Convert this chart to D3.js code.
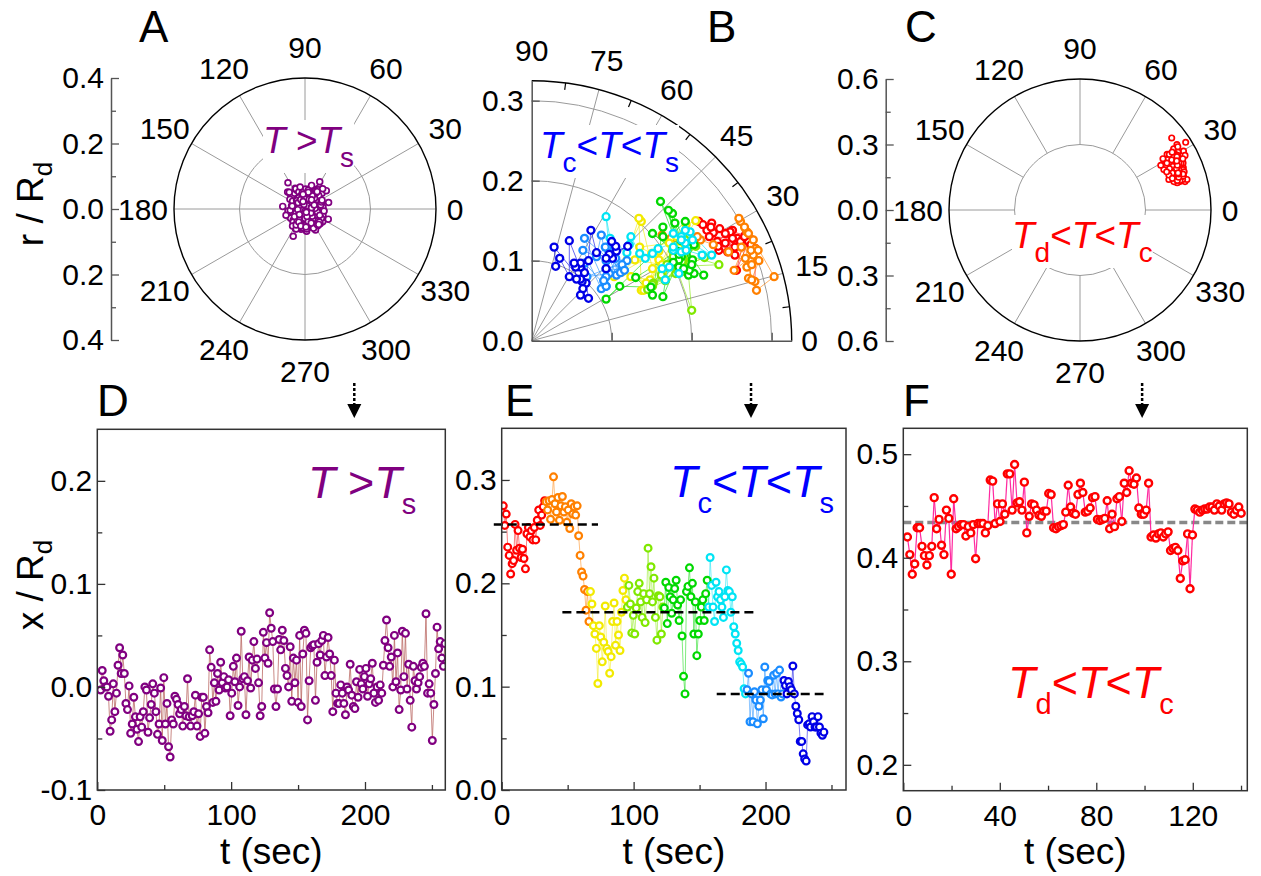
<!DOCTYPE html>
<html>
<head>
<meta charset="utf-8">
<script src="https://cdn.jsdelivr.net/npm/d3@7/dist/d3.min.js"></script>
<style>
  body { margin: 0; background: #fff; }
  svg text { font-family: "Liberation Sans", Arial, Helvetica, sans-serif; }
</style>
</head>
<body>
<svg id="fig" width="1261" height="876"></svg>
<script>
// ---------- values ----------

// D : x / Rd above Ts (one sample about every 1.18 s)
var dStart = 2.5, dStep = 1.18;
var dX = [-0.003,0.016,0.006,0.000,0.000,-0.009,-0.043,-0.032,0.003,-0.024,
  -0.006,0.021,0.038,0.013,0.031,0.013,-0.016,-0.022,0.001,-0.045,
  -0.036,-0.010,-0.029,-0.041,-0.053,-0.029,-0.039,-0.024,0.000,-0.003,
  -0.044,-0.030,-0.017,0.003,-0.006,-0.024,-0.046,-0.036,-0.001,-0.052,
  0.009,-0.036,-0.016,-0.058,-0.068,-0.032,-0.036,-0.009,-0.012,-0.017,
  -0.026,-0.022,-0.038,-0.019,-0.028,0.008,-0.029,-0.038,-0.028,-0.024,
  -0.008,-0.038,-0.026,-0.048,-0.010,-0.010,-0.045,-0.019,-0.025,0.036,
  0.019,-0.015,0.004,-0.014,0.013,-0.003,0.024,0.004,0.010,-0.001,
  0.000,0.007,-0.028,-0.006,0.020,0.005,0.028,-0.018,0.000,0.054,
  0.008,0.010,-0.027,0.006,0.029,-0.001,0.026,0.044,0.018,0.027,
  0.004,-0.028,-0.019,0.053,0.028,0.043,0.023,0.072,0.057,0.044,
  -0.002,-0.019,-0.002,0.046,0.036,0.055,0.045,0.018,0.011,0.000,
  0.039,-0.014,0.028,0.004,0.026,-0.015,0.050,-0.019,0.032,0.055,
  0.052,-0.032,0.006,0.038,0.040,0.041,-0.013,0.024,0.042,0.031,
  0.045,0.050,0.011,0.029,0.048,0.032,0.011,-0.024,0.026,-0.006,
  -0.016,-0.016,0.002,-0.006,-0.016,-0.027,0.000,-0.003,0.022,-0.008,
  -0.019,-0.021,0.005,-0.010,0.017,0.003,-0.002,0.010,0.018,-0.009,
  0.003,0.008,0.023,-0.006,-0.015,0.000,-0.013,0.002,-0.006,0.021,
  0.045,0.065,0.038,0.020,0.029,0.000,0.050,0.005,0.033,-0.022,
  -0.003,0.054,0.010,0.052,-0.002,0.022,-0.013,-0.039,0.020,0.006,
  -0.002,0.004,0.010,0.019,0.023,0.020,0.071,-0.006,0.003,-0.006,
  -0.052,-0.017,0.013,0.058,0.037,0.044,0.028,0.020,0.042];
// A : y / Rd of the same samples (x comes from dX)
var aY = [0.012,-0.020,0.035,0.004,-0.041,0.022,-0.008,0.050,-0.030,0.015,0.041,-0.012,0.028,-0.055,0.006,0.060,-0.024,0.033,-0.003,0.046,
  -0.038,0.019,-0.060,0.010,0.052,-0.016,0.037,-0.045,0.002,0.025,-0.028,0.063,-0.010,0.044,-0.050,0.014,0.030,-0.034,0.055,-0.006,
  0.021,-0.083,0.040,-0.019,0.008,0.048,-0.040,0.026,-0.062,0.017,0.058,-0.025,0.003,0.035,-0.048,0.045,-0.014,0.024,0.062,-0.036,
  0.010,-0.052,0.029,0.051,-0.021,0.039,-0.004,-0.058,0.018,0.047,-0.031,0.006,0.057,-0.044,0.023,-0.011,0.042,-0.066,0.031,0.013,
  -0.027,0.054,-0.008,0.036,-0.053,0.020,0.060,-0.018,0.004,-0.039,0.049,0.011,-0.061,0.032,-0.002,0.043,-0.033,0.066,0.016,-0.047,
  0.027,-0.012,0.052,-0.026,0.009,0.039,-0.056,0.020,-0.005,0.057,-0.037,0.030,0.001,-0.045,0.046,-0.020,0.013,0.064,-0.030,0.024,
  -0.051,0.040,0.007,-0.015,0.053,-0.042,0.018,0.034,-0.064,0.005,0.048,-0.023,0.028,-0.009,0.059,-0.035,0.015,-0.054,0.041,0.002,
  0.083,-0.028,0.036,-0.046,0.012,0.055,-0.017,0.026,-0.059,0.043,0.008,-0.032,0.061,-0.004,0.022,-0.049,0.037,0.014,-0.022,0.050,
  -0.040,0.019,-0.068,0.031,0.003,0.046,-0.026,0.058,-0.012,0.025,-0.044,0.010,0.038,-0.057,0.067,-0.007,0.029,-0.034,0.017,0.044,
  -0.019,0.056,-0.048,0.006,0.033,-0.029,0.021,-0.061,0.049,-0.002,0.014,0.062,-0.038,0.027,-0.014,0.040,-0.052,0.009,0.072,-0.023,
  0.035,-0.010,0.051,-0.043,0.018,0.004,-0.031,0.045,-0.055,0.023,0.080,-0.017,0.030,-0.006,0.053,-0.040,0.012,0.028,-0.047];

// E : x / Rd between Tc and Ts (one sample about every 1.12 s)
var eStart = 1.2, eStep = 1.12;
var eX = [0.275,0.256,0.267,0.235,0.227,0.209,0.219,0.222,0.257,0.232,0.251,0.234,0.225,0.233,0.224,0.214,0.248,0.254,0.245,0.251,0.242,0.254,0.242,0.261,0.271,0.256,0.266,0.274,0.280,
  0.279,0.271,0.280,0.262,0.281,0.303,0.277,0.269,0.283,0.261,0.275,0.284,0.269,0.274,0.259,0.271,0.253,0.277,0.267,0.274,0.266,0.275,0.246,0.227,0.211,0.207,0.194,0.174,0.192,0.163,
  0.192,0.180,0.159,0.151,0.137,0.103,0.159,0.148,0.124,0.143,0.178,0.137,0.134,0.113,0.129,0.163,0.181,0.140,0.163,0.150,0.135,0.172,0.193,0.205,0.184,
  0.177,0.198,0.180,0.152,0.169,0.151,0.176,0.192,0.200,0.182,0.167,0.190,0.162,0.184,0.234,0.190,0.216,0.182,0.205,0.167,0.145,0.188,0.187,0.151,0.177,
  0.176,0.201,0.161,0.196,0.187,0.171,0.184,0.195,0.203,0.179,0.164,0.184,0.149,0.110,0.093,0.192,0.197,0.215,0.187,0.200,0.151,0.182,0.130,0.151,0.164,0.177,0.184,0.164,0.190,0.203,
  0.177,0.225,0.198,0.177,0.163,0.201,0.187,0.192,0.184,0.177,0.167,0.187,0.213,0.193,0.192,0.172,0.187,0.158,0.151,0.142,0.135,0.124,0.122,0.119,0.098,0.093,
  0.097,0.113,0.066,0.093,0.066,0.095,0.087,0.064,0.081,0.087,0.097,0.069,0.119,0.097,0.106,0.105,0.093,0.092,0.111,0.093,0.113,0.093,0.116,0.090,0.093,
  0.106,0.101,0.093,0.105,0.100,0.097,0.120,0.093,0.081,0.074,0.068,0.047,0.047,0.035,0.030,0.028,0.063,0.064,0.061,0.071,0.066,0.061,0.061,0.071,0.061,0.055,0.053,0.056];
// B : y / Rd of the same samples (x comes from eX)
var bY = [0.126,0.120,0.132,0.140,0.135,0.149,0.138,0.130,0.128,0.124,0.138,0.113,0.147,0.118,0.142,0.145,0.136,0.107,0.111,0.128,0.122,0.117,0.134,0.124,0.124,0.088,0.130,0.120,0.115,
  0.074,0.078,0.115,0.117,0.063,0.080,0.126,0.092,0.113,0.149,0.076,0.100,0.136,0.101,0.153,0.134,0.088,0.107,0.103,0.113,0.142,0.095,0.111,0.120,0.126,0.130,0.124,0.128,0.118,0.132,
  0.118,0.100,0.101,0.090,0.149,0.080,0.112,0.076,0.080,0.072,0.109,0.063,0.153,0.086,0.101,0.095,0.130,0.063,0.084,0.109,0.117,0.122,0.145,0.150,0.116,
  0.105,0.120,0.084,0.072,0.095,0.068,0.113,0.126,0.038,0.088,0.076,0.101,0.082,0.110,0.095,0.093,0.104,0.090,0.118,0.075,0.064,0.099,0.086,0.070,0.096,
  0.159,0.101,0.174,0.082,0.105,0.163,0.092,0.117,0.084,0.147,0.055,0.101,0.067,0.068,0.052,0.149,0.088,0.082,0.125,0.095,0.134,0.112,0.079,0.057,0.142,0.098,0.108,0.130,0.090,0.120,
  0.134,0.107,0.136,0.113,0.090,0.126,0.111,0.138,0.084,0.117,0.076,0.130,0.107,0.113,0.122,0.092,0.126,0.115,0.109,0.103,0.109,0.130,0.120,0.110,0.128,0.155,
  0.111,0.088,0.128,0.068,0.097,0.117,0.065,0.113,0.105,0.132,0.084,0.080,0.100,0.103,0.082,0.103,0.068,0.117,0.085,0.080,0.095,0.090,0.088,0.075,0.100,
  0.112,0.103,0.090,0.118,0.124,0.108,0.118,0.103,0.110,0.138,0.072,0.125,0.080,0.103,0.093,0.117,0.074,0.065,0.057,0.053,0.085,0.092,0.077,0.100,0.097,0.092,0.097,0.077];
// index where each colour run of E / B starts
var eGroupStart = [0, 29, 59, 84, 109, 139, 165, 190];
var eGroupColor = ["#ff0000", "#ff8000", "#f2ea00", "#80e800", "#00d800", "#00e4f4", "#1a8cff", "#0000e6"];
var eLevels = [0.257, 0.172, 0.093];
var eLevelFrom = [-6, 46, 163];
var eLevelTo = [73, 194, 244];

// F : x / Rd between Td and Tc (one sample about every 1.01 s)
var fStart = 1.7, fStep = 1.01;
var fX = [0.420,0.403,0.384,0.394,0.429,0.429,0.411,0.402,0.393,0.402,
  0.411,0.458,0.428,0.437,0.412,0.403,0.446,0.438,0.384,0.457,
  0.428,0.430,0.432,0.432,0.421,0.430,0.424,0.432,0.399,0.433,
  0.433,0.433,0.424,0.431,0.475,0.474,0.433,0.452,0.435,0.452,
  0.442,0.481,0.481,0.446,0.490,0.453,0.454,0.446,0.473,0.424,
  0.440,0.452,0.451,0.446,0.441,0.440,0.445,0.445,0.462,0.461,
  0.429,0.428,0.430,0.431,0.432,0.444,0.470,0.449,0.443,0.442,
  0.461,0.472,0.463,0.444,0.445,0.448,0.458,0.459,0.437,0.436,
  0.437,0.438,0.455,0.428,0.442,0.430,0.457,0.459,0.435,0.472,
  0.463,0.484,0.472,0.471,0.477,0.448,0.442,0.442,0.446,0.472,
  0.420,0.422,0.419,0.423,0.424,0.420,0.423,0.425,0.407,0.409,
  0.410,0.407,0.380,0.397,0.398,0.423,0.370,0.422,0.447,0.446,
  0.444,0.446,0.447,0.447,0.449,0.449,0.446,0.452,0.450,0.446,
  0.452,0.453,0.452,0.444,0.442,0.446,0.449,0.443];
// C : y / Rd of the same samples (x comes from fX)
var cY = [0.210,0.180,0.230,0.195,0.160,0.245,0.215,0.175,0.200,0.225,0.190,0.140,0.250,0.205,0.170,0.235,0.150,0.220,0.185,0.130,
  0.260,0.195,0.240,0.165,0.210,0.145,0.230,0.185,0.255,0.170,0.205,0.135,0.225,0.190,0.150,0.270,0.215,0.160,0.240,0.180,
  0.200,0.130,0.250,0.175,0.140,0.220,0.165,0.235,0.195,0.150,0.260,0.185,0.210,0.145,0.230,0.170,0.125,0.245,0.200,0.160,
  0.280,0.220,0.155,0.240,0.185,0.205,0.140,0.265,0.175,0.230,0.150,0.215,0.190,0.300,0.165,0.245,0.135,0.210,0.180,0.255,
  0.195,0.145,0.225,0.170,0.240,0.130,0.205,0.160,0.250,0.185,0.215,0.310,0.155,0.235,0.175,0.290,0.200,0.140,0.225,0.165,
  0.330,0.210,0.150,0.245,0.185,0.230,0.170,0.200,0.140,0.255,0.190,0.160,0.235,0.175,0.215,0.145,0.205,0.265,0.180,0.135,
  0.220,0.195,0.250,0.160,0.210,0.175,0.240,0.150,0.200,0.230,0.185,0.215,0.165,0.245,0.190,0.205,0.170,0.225];
var fLevel = 0.434;

// time of the dotted arrows above D, E, F
var arrowD = 192, arrowE = 189, arrowF = 99;

var polarAngles = [0, 30, 60, 90, 120, 150, 180, 210, 240, 270, 300, 330];
var quarterAngles = [0, 15, 30, 45, 60, 75, 90];
var quarterMinor = [7.5, 22.5, 37.5, 52.5, 67.5, 82.5];

// ---------- drawing ----------
var svg = d3.select("#fig");
var TICK_FS = 30;
var GRID = "#9a9a9a";
var PURPLE = "#800080";
var rad = Math.PI / 180;

function eColor(i) {
  return eGroupColor[d3.bisectRight(eGroupStart, i) - 1];
}

function styleAxis(g, showDomain) {
  g.attr("font-family", null).attr("font-size", null).attr("color", "#333");
  g.selectAll("text").style("font-size", TICK_FS + "px").attr("fill", "#000");
  g.selectAll(".tick line").attr("stroke-width", 1.3);
  if (showDomain) g.select(".domain").attr("stroke-width", 1.5);
  else g.select(".domain").remove();
}

// text with italic / subscript runs, optional white box behind it
function richText(parent, x, y, size, subSize, subDy, color, parts, box) {
  var t = parent.append("text").attr("x", x).attr("y", y)
    .attr("fill", color).style("font-size", size + "px");
  var cur = 0;
  parts.forEach(function(p) {
    var s = t.append("tspan").text(p[0]);
    var target = p[1] === "sub" ? subDy : 0;
    if (target !== cur) s.attr("dy", target - cur);
    cur = target;
    if (p[1] === "sub") s.style("font-size", subSize + "px");
    if (p[1] === "it") s.style("font-style", "italic");
  });
  if (box) {
    var b = t.node().getBBox();
    parent.insert("rect", function() { return t.node(); })
      .attr("x", b.x).attr("y", b.y).attr("width", b.width).attr("height", b.height)
      .attr("fill", "#fff");
  }
  return t;
}

function panelLetter(txt, x, y) {
  svg.append("text").attr("x", x).attr("y", y).style("font-size", "44px").text(txt);
}

function fmt1(d) { return Math.abs(d) < 1e-9 ? "0.0" : d.toFixed(1); }

// full polar panel (A and C)
function polarFull(cfg) {
  var g = svg.append("g");
  var r = d3.scaleLinear().domain([0, cfg.rMax]).range([0, cfg.R]);
  var cx = cfg.cx, cy = cfg.cy;

  g.append("circle").attr("cx", cx).attr("cy", cy).attr("r", r(cfg.ring))
    .attr("fill", "none").attr("stroke", GRID).attr("stroke-width", 1);
  g.selectAll("line.spoke").data(polarAngles).enter().append("line")
    .attr("x1", function(a) { return cx + r(cfg.spokeFrom) * Math.cos(a * rad); })
    .attr("y1", function(a) { return cy - r(cfg.spokeFrom) * Math.sin(a * rad); })
    .attr("x2", function(a) { return cx + r(cfg.rMax) * Math.cos(a * rad); })
    .attr("y2", function(a) { return cy - r(cfg.rMax) * Math.sin(a * rad); })
    .attr("stroke", GRID).attr("stroke-width", 1);
  g.append("circle").attr("cx", cx).attr("cy", cy).attr("r", r(cfg.rMax))
    .attr("fill", "none").attr("stroke", "#000").attr("stroke-width", 1.4);

  g.selectAll("text.ang").data(polarAngles).enter().append("text")
    .attr("x", function(a) { return cx + (cfg.R + (String(a).length === 1 ? 19 : 31)) * Math.cos(a * rad); })
    .attr("y", function(a) { return cy - (cfg.R + (String(a).length === 1 ? 19 : 31)) * Math.sin(a * rad); })
    .attr("text-anchor", "middle").attr("dominant-baseline", "central")
    .style("font-size", TICK_FS + "px").text(function(a) { return a; });

  // radial scale drawn as a vertical axis on the left
  var ya = d3.scaleLinear().domain([-cfg.rMax, cfg.rMax]).range([cy + cfg.R, cy - cfg.R]);
  var ax = g.append("g").attr("transform", "translate(" + cfg.axisX + ",0)")
    .call(d3.axisLeft(ya).tickValues(cfg.major).tickSizeInner(-8).tickSizeOuter(0).tickPadding(7)
      .tickFormat(function(d) { return fmt1(Math.abs(d)); }));
  styleAxis(ax, true);
  ax.attr("color", "#555");
  var axm = g.append("g").attr("transform", "translate(" + cfg.axisX + ",0)")
    .call(d3.axisLeft(ya).tickValues(cfg.minor).tickSizeInner(-5).tickSizeOuter(0).tickFormat(""));
  styleAxis(axm, false);
  axm.attr("color", "#555");

  cfg.label(g);

  var n = Math.min(cfg.xs.length, cfg.ys.length);
  var pts = d3.range(n).map(function(i) { return { x: cfg.xs[i], y: cfg.ys[i] }; });
  g.selectAll("circle.pt").data(pts).enter().append("circle")
    .attr("cx", function(d) { return cx + (d.x >= 0 ? r(d.x) : -r(-d.x)); })
    .attr("cy", function(d) { return cy - (d.y >= 0 ? r(d.y) : -r(-d.y)); })
    .attr("r", cfg.mr).attr("fill", "#fff")
    .attr("stroke", cfg.color).attr("stroke-width", cfg.mw);
}

// time series panel (D, E, F)
function timePanel(cfg) {
  var g = svg.append("g");
  var x = d3.scaleLinear().domain(cfg.tDomain).range([cfg.left, cfg.right]);
  var y = d3.scaleLinear().domain(cfg.vDomain).range([cfg.bottom, cfg.top]);
  var clipId = "clip" + cfg.name;
  svg.append("clipPath").attr("id", clipId).append("rect")
    .attr("x", cfg.left).attr("y", cfg.top)
    .attr("width", cfg.right - cfg.left).attr("height", cfg.bottom - cfg.top);
  var plot = g.append("g").attr("clip-path", "url(#" + clipId + ")");
  var pts = cfg.values.map(function(v, i) { return { t: cfg.start + i * cfg.step, v: v, i: i }; });

  if (cfg.under) cfg.under(plot, x, y);
  plot.selectAll("line.seg").data(pts.slice(1)).enter().append("line")
    .attr("x1", function(d) { return x(pts[d.i - 1].t); })
    .attr("y1", function(d) { return y(pts[d.i - 1].v); })
    .attr("x2", function(d) { return x(d.t); })
    .attr("y2", function(d) { return y(d.v); })
    .attr("stroke", function(d) { return cfg.lineColor(d.i - 1); })
    .attr("stroke-opacity", cfg.lineOpacity).attr("stroke-width", cfg.lineWidth);
  plot.selectAll("circle").data(pts).enter().append("circle")
    .attr("cx", function(d) { return x(d.t); })
    .attr("cy", function(d) { return y(d.v); })
    .attr("r", cfg.mr).attr("fill", "#fff")
    .attr("stroke", function(d) { return cfg.color(d.i); })
    .attr("stroke-width", cfg.mw);
  if (cfg.over) cfg.over(g, x, y);

  var xa = g.append("g").attr("transform", "translate(0," + cfg.bottom + ")")
    .call(d3.axisBottom(x).tickValues(cfg.tMajor).tickSizeInner(-8).tickSizeOuter(0).tickPadding(14)
      .tickFormat(d3.format("d")));
  styleAxis(xa, false);
  var xm = g.append("g").attr("transform", "translate(0," + cfg.bottom + ")")
    .call(d3.axisBottom(x).tickValues(cfg.tMinor).tickSizeInner(-5).tickSizeOuter(0).tickFormat(""));
  styleAxis(xm, false);
  var ya = g.append("g").attr("transform", "translate(" + cfg.left + ",0)")
    .call(d3.axisLeft(y).tickValues(cfg.vMajor).tickSizeInner(-8).tickSizeOuter(0).tickPadding(5)
      .tickFormat(fmt1));
  styleAxis(ya, false);
  var ym = g.append("g").attr("transform", "translate(" + cfg.left + ",0)")
    .call(d3.axisLeft(y).tickValues(cfg.vMinor).tickSizeInner(-5).tickSizeOuter(0).tickFormat(""));
  styleAxis(ym, false);

  g.append("rect").attr("x", cfg.left).attr("y", cfg.top)
    .attr("width", cfg.right - cfg.left).attr("height", cfg.bottom - cfg.top)
    .attr("fill", "none").attr("stroke", "#333").attr("stroke-width", 1.5);

  richText(g, (cfg.left + cfg.right) / 2, 864, 37, 26, 9, "#000", [["t (sec)", ""]])
    .attr("text-anchor", "middle");

  // dotted arrow above the frame
  var ax = x(cfg.arrowT);
  g.append("line").attr("x1", ax).attr("x2", ax).attr("y1", 383).attr("y2", 406)
    .attr("stroke", "#000").attr("stroke-width", 2.5).attr("stroke-dasharray", "3,2");
  g.append("path").attr("d", "M" + (ax - 7) + ",404 L" + (ax + 7) + ",404 L" + ax + ",418 Z")
    .attr("fill", "#000");

  cfg.label(g);
  return g;
}

// ----- A -----
polarFull({
  cx: 305, cy: 209, R: 131, rMax: 0.4, ring: 0.2, spokeFrom: 0, axisX: 111,
  major: [-0.4, -0.2, 0, 0.2, 0.4], minor: [-0.3, -0.1, 0.1, 0.3],
  xs: dX, ys: aY, color: PURPLE, mr: 2.9, mw: 1.7,
  label: function(g) {
    richText(g, 263, 153, 37, 28, 14, PURPLE, [["T", "it"], [" >", ""], ["T", "it"], ["s", "sub"]], true);
  }
});
var yTitleA = richText(svg, 43, 204, 37, 26, 9, "#000", [["r / R", ""], ["d", "sub"]]);
yTitleA.attr("text-anchor", "middle").attr("transform", "rotate(-90,43,204)");
panelLetter("A", 139, 42);

// ----- B (quarter polar) -----
(function() {
  var g = svg.append("g");
  var ox = 531.7, oy = 340.7, rMax = 0.325;
  var s = d3.scaleLinear().domain([0, rMax]).range([0, 260]);
  var R = s(rMax);
  [0.1, 0.2, 0.3].forEach(function(v) {
    var p = d3.path();
    p.moveTo(ox, oy - s(v));
    p.arc(ox, oy, s(v), -Math.PI / 2, 0);
    g.append("path").attr("d", p.toString()).attr("fill", "none").attr("stroke", GRID).attr("stroke-width", 1);
  });
  g.selectAll("line.spoke").data([15, 30, 45, 60, 75]).enter().append("line")
    .attr("x1", ox).attr("y1", oy)
    .attr("x2", function(a) { return ox + R * Math.cos(a * rad); })
    .attr("y2", function(a) { return oy - R * Math.sin(a * rad); })
    .attr("stroke", GRID).attr("stroke-width", 1);
  var po = d3.path();
  po.moveTo(ox, oy - R);
  po.arc(ox, oy, R, -Math.PI / 2, 0);
  g.append("path").attr("d", po.toString()).attr("fill", "none").attr("stroke", "#000").attr("stroke-width", 1.4);
  g.selectAll("line.mt").data(quarterMinor).enter().append("line")
    .attr("x1", function(a) { return ox + (R - 7) * Math.cos(a * rad); })
    .attr("y1", function(a) { return oy - (R - 7) * Math.sin(a * rad); })
    .attr("x2", function(a) { return ox + R * Math.cos(a * rad); })
    .attr("y2", function(a) { return oy - R * Math.sin(a * rad); })
    .attr("stroke", "#000").attr("stroke-width", 1.2);

  var ya = d3.scaleLinear().domain([0, rMax]).range([oy, oy - R]);
  var axl = g.append("g").attr("transform", "translate(" + ox + ",0)")
    .call(d3.axisLeft(ya).tickValues([0, 0.1, 0.2, 0.3]).tickSizeInner(-8).tickSizeOuter(0).tickPadding(8).tickFormat(fmt1));
  styleAxis(axl, true);
  axl.attr("color", "#555");
  var xa = d3.scaleLinear().domain([0, rMax]).range([ox, ox + R]);
  var axb = g.append("g").attr("transform", "translate(0," + oy + ")")
    .call(d3.axisBottom(xa).tickValues([0.1, 0.2, 0.3]).tickSizeInner(-8).tickSizeOuter(0).tickFormat(""));
  styleAxis(axb, true);
  axb.attr("color", "#555");

  g.selectAll("text.ang").data(quarterAngles).enter().append("text")
    .attr("x", function(a) { return ox + (R + (String(a).length === 1 ? 18 : 30)) * Math.cos(a * rad); })
    .attr("y", function(a) { return oy - (R + (String(a).length === 1 ? 18 : 30)) * Math.sin(a * rad); })
    .attr("text-anchor", "middle").attr("dominant-baseline", "central")
    .style("font-size", TICK_FS + "px").text(function(a) { return a; });

  richText(g, 540, 158, 37, 28, 14, "#0000ff",
    [["T", "it"], ["c", "sub"], ["<", ""], ["T", "it"], ["<", ""], ["T", "it"], ["s", "sub"]], true);

  var n = Math.min(eX.length, bY.length);
  var pts = d3.range(n).map(function(i) { return { x: eX[i], y: bY[i], i: i }; });
  g.selectAll("line.seg").data(pts.slice(1)).enter().append("line")
    .attr("x1", function(d) { return ox + s(pts[d.i - 1].x); })
    .attr("y1", function(d) { return oy - s(pts[d.i - 1].y); })
    .attr("x2", function(d) { return ox + s(d.x); })
    .attr("y2", function(d) { return oy - s(d.y); })
    .attr("stroke", function(d) { return eColor(d.i - 1); })
    .attr("stroke-opacity", 0.6).attr("stroke-width", 1);
  g.selectAll("circle.pt").data(pts).enter().append("circle")
    .attr("cx", function(d) { return ox + s(d.x); })
    .attr("cy", function(d) { return oy - s(d.y); })
    .attr("r", 3.5).attr("fill", "#fff")
    .attr("stroke", function(d) { return eColor(d.i); }).attr("stroke-width", 2.3);
})();
panelLetter("B", 707, 42);

// ----- C -----
polarFull({
  cx: 1080, cy: 210, R: 131, rMax: 0.6, ring: 0.3, spokeFrom: 0.3, axisX: 885.7,
  major: [-0.6, -0.3, 0, 0.3, 0.6], minor: [-0.45, -0.15, 0.15, 0.45],
  xs: fX, ys: cY, color: "#ff0000", mr: 2.7, mw: 1.7,
  label: function(g) {
    richText(g, 1012, 248, 37, 28, 14, "#ff0000",
      [["T", "it"], ["d", "sub"], ["<", ""], ["T", "it"], ["<", ""], ["T", "it"], ["c", "sub"]], true);
  }
});
panelLetter("C", 905, 42);

// ----- D -----
timePanel({
  name: "D", left: 97.3, right: 445.3, top: 429.3, bottom: 790,
  tDomain: [0, 260], vDomain: [-0.1, 0.25],
  tMajor: [0, 100, 200], tMinor: [50, 150, 250],
  vMajor: [-0.1, 0, 0.1, 0.2], vMinor: [-0.05, 0.05, 0.15],
  values: dX, start: dStart, step: dStep,
  color: function() { return PURPLE; },
  lineColor: function() { return "#b8645f"; }, lineOpacity: 0.85, lineWidth: 0.9,
  mr: 3.4, mw: 2.2, arrowT: arrowD,
  label: function(g) {
    richText(g, 308, 498, 45, 29, 16, PURPLE, [["T", "it"], [" >", ""], ["T", "it"], ["s", "sub"]]);
  }
});
var yTitleD = richText(svg, 43, 585, 37, 26, 9, "#000", [["x / R", ""], ["d", "sub"]]);
yTitleD.attr("text-anchor", "middle").attr("transform", "rotate(-90,43,585)");
panelLetter("D", 97, 416);

// ----- E -----
timePanel({
  name: "E", left: 501.7, right: 846, top: 428.3, bottom: 790,
  tDomain: [0, 261], vDomain: [0, 0.35],
  tMajor: [0, 100, 200], tMinor: [50, 150, 250],
  vMajor: [0, 0.1, 0.2, 0.3], vMinor: [0.05, 0.15, 0.25],
  values: eX, start: eStart, step: eStep,
  color: eColor, lineColor: eColor, lineOpacity: 0.5, lineWidth: 1,
  mr: 3.4, mw: 2.2, arrowT: arrowE,
  over: function(g, x, y) {
    g.selectAll("line.lvl").data(eLevels).enter().append("line")
      .attr("x1", function(d, i) { return x(eLevelFrom[i]); })
      .attr("x2", function(d, i) { return x(eLevelTo[i]); })
      .attr("y1", function(d) { return y(d); })
      .attr("y2", function(d) { return y(d); })
      .attr("stroke", "#000").attr("stroke-width", 2.5).attr("stroke-dasharray", "9,5");
  },
  label: function(g) {
    richText(g, 670, 497, 45, 29, 16, "#0000ff",
      [["T", "it"], ["c", "sub"], ["<", ""], ["T", "it"], ["<", ""], ["T", "it"], ["s", "sub"]]);
  }
});
panelLetter("E", 505, 416);

// ----- F -----
timePanel({
  name: "F", left: 903.3, right: 1247.3, top: 428.3, bottom: 790.7,
  tDomain: [0, 142.6], vDomain: [0.175, 0.525],
  tMajor: [0, 40, 80, 120], tMinor: [20, 60, 100, 140],
  vMajor: [0.2, 0.3, 0.4, 0.5], vMinor: [0.25, 0.35, 0.45],
  values: fX, start: fStart, step: fStep,
  color: function() { return "#ff0000"; },
  lineColor: function() { return "#ff2aa0"; }, lineOpacity: 1, lineWidth: 1.2,
  mr: 3.5, mw: 2.4, arrowT: arrowF,
  under: function(g, x, y) {
    g.append("line").attr("x1", x(0)).attr("x2", x(142.6))
      .attr("y1", y(fLevel)).attr("y2", y(fLevel))
      .attr("stroke", "#888").attr("stroke-width", 3.5).attr("stroke-dasharray", "8,4");
  },
  label: function(g) {
    richText(g, 1008, 698, 45, 29, 16, "#ff0000",
      [["T", "it"], ["d", "sub"], ["<", ""], ["T", "it"], ["<", ""], ["T", "it"], ["c", "sub"]]);
  }
});
panelLetter("F", 903, 416);
</script>
</body>
</html>
